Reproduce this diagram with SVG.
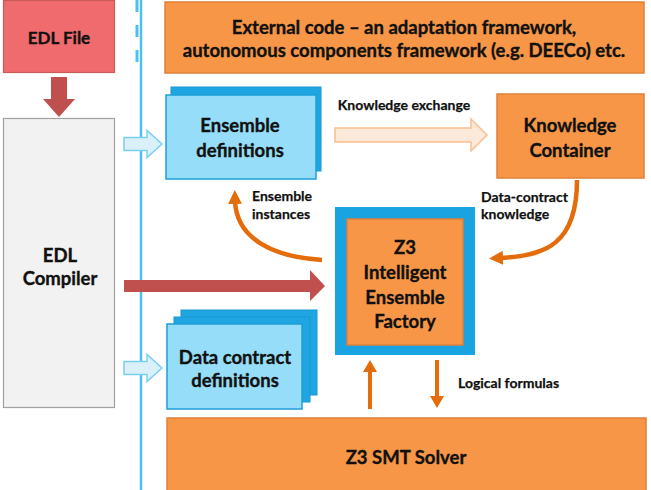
<svg xmlns="http://www.w3.org/2000/svg" width="651" height="490" viewBox="0 0 651 490">
<style>
text{font-family:Lato,"Liberation Sans",sans-serif;font-weight:700;fill:#111111;stroke:#111111;stroke-width:0.35;text-anchor:middle;dominant-baseline:central}
.big{font-size:18.5px}
.mid{font-size:17px}
.sm{font-size:14px;stroke-width:0.25}
.l{text-anchor:start}
.orange{fill:#F79646;stroke:#E0803A;stroke-width:1.5}
.back{fill:#1FA5E2;stroke:#1A97D2;stroke-width:1}
.front{fill:#95DDF8;stroke:#1E9FD8;stroke-width:1.5}
.curve{fill:none;stroke:#E46C0A;stroke-width:4.5}
</style>
<defs>
<marker id="oh" markerUnits="userSpaceOnUse" markerWidth="14" markerHeight="14" viewBox="0 0 14 14" refX="4" refY="7" orient="auto">
<path d="M0,0 L14,7 L0,14 z" fill="#E46C0A"/>
</marker>
</defs>
<rect width="651" height="490" fill="#ffffff"/>
<g id="separator">
<line x1="141" y1="0" x2="141" y2="490" stroke="#4EC0EF" stroke-width="2.5"/>
<line x1="137" y1="0" x2="137" y2="65" stroke="#4EC0EF" stroke-width="3" stroke-dasharray="12,13"/>
</g>
<g id="edl-file">
<rect x="3.5" y="0.5" width="111" height="72" fill="#F06B6D" stroke="#C95A5A" stroke-width="1.2"/>
<text class="mid" x="59" y="37">EDL File</text>
</g>
<g id="edl-compiler">
<rect x="3.5" y="118.5" width="111" height="289" fill="#F2F2F2" stroke="#A0A0A0" stroke-width="1.2"/>
<text class="big" x="60" y="255">EDL</text>
<text class="big" x="60" y="278">Compiler</text>
</g>
<g id="external-code">
<rect x="165" y="2" width="479" height="71" class="orange"/>
<text class="big" x="404" y="27">External code – an adaptation framework,</text>
<text class="big" x="404" y="50">autonomous components framework (e.g. DEECo) etc.</text>
</g>
<g id="ensemble-definitions">
<rect x="171" y="87" width="150" height="84" class="back"/>
<rect x="166" y="95" width="150" height="84" class="front"/>
<text class="big" x="240" y="125">Ensemble</text>
<text class="big" x="240" y="150">definitions</text>
</g>
<g id="knowledge-container">
<rect x="497" y="94" width="147" height="84" class="orange"/>
<text class="big" x="570" y="125">Knowledge</text>
<text class="big" x="570" y="150">Container</text>
</g>
<g id="factory">
<rect x="335" y="207" width="140" height="148" fill="#1AA3E1"/>
<rect x="347" y="219" width="116" height="126" class="orange"/>
<text class="big" x="405" y="247">Z3</text>
<text class="big" x="405" y="272">Intelligent</text>
<text class="big" x="405" y="297">Ensemble</text>
<text class="big" x="405" y="321">Factory</text>
</g>
<g id="data-contract-definitions">
<rect x="181" y="310" width="136" height="85" class="back"/>
<rect x="174" y="317" width="136" height="85" class="back"/>
<rect x="167" y="324" width="135" height="85" class="front"/>
<text class="big" x="235" y="357">Data contract</text>
<text class="big" x="235" y="380">definitions</text>
</g>
<g id="smt-solver">
<rect x="167" y="418" width="479" height="80" class="orange"/>
<text class="big" x="406" y="457">Z3 SMT Solver</text>
</g>
<g id="connectors">
<polygon points="51,77 67,77 67,99 75,99 59,117 43,99 51,99" fill="#C0504D"/>
<polygon points="124,280 310,280 310,270 325,286 310,301 310,292 124,292" fill="#C0504D"/>
<polygon points="124,137.5 147,137.5 147,130.5 162,144 147,157.5 147,150.5 124,150.5" fill="#DAF1FC" stroke="#79CFF0" stroke-width="1.5"/>
<polygon points="124,361.5 147,361.5 147,354.5 162,368 147,381.5 147,374.5 124,374.5" fill="#DAF1FC" stroke="#79CFF0" stroke-width="1.5"/>
<polygon points="335,128 471,128 471,119 487,135 471,151 471,142 335,142" fill="#FDE9D9" stroke="#F9BF8F" stroke-width="1.5"/>
<path class="curve" d="M322,260 C275,257 236,240 235,200" marker-end="url(#oh)"/>
<path class="curve" d="M577,180 C577,245 545,256 499,258" marker-end="url(#oh)"/>
<polygon points="368,409 372,409 372,372 377,372 370,360 363,372 368,372" fill="#E46C0A"/>
<polygon points="435,360 439,360 439,396 444,396 437,408 430,396 435,396" fill="#E46C0A"/>
<text class="sm" x="404" y="104">Knowledge exchange</text>
<text class="sm l" x="252" y="195">Ensemble</text>
<text class="sm l" x="252" y="213">instances</text>
<text class="sm l" x="481" y="196">Data-contract</text>
<text class="sm l" x="481" y="213">knowledge</text>
<text class="sm l" x="458" y="382">Logical formulas</text>
</g>
</svg>
